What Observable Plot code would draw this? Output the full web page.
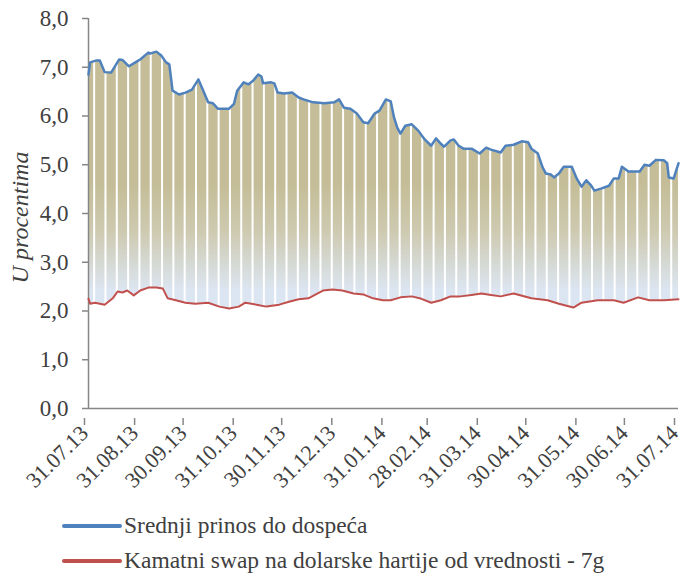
<!DOCTYPE html>
<html><head><meta charset="utf-8">
<script src="https://cdn.jsdelivr.net/npm/d3@7"></script>
<script src="https://cdn.jsdelivr.net/npm/@observablehq/plot@0.6"></script>
<style>
body{margin:0;background:#fff;font-family:"Liberation Serif","DejaVu Serif",serif;}
svg, svg text{font-family:"Liberation Serif","DejaVu Serif",serif !important;}
#legend{padding-top:8px;}
.row{display:flex;align-items:center;height:35px;color:#404040;font-size:23.5px;white-space:nowrap;}
.sw{width:60px;height:4px;margin-left:62px;margin-right:2px;border-radius:2px;}
</style></head><body>
<div id="chart"></div>
<div id="legend"></div>
<script>
const tickLabels = ["31.07.13","31.08.13","30.09.13","31.10.13","30.11.13","31.12.13","31.01.14","28.02.14","31.03.14","30.04.14","31.05.14","30.06.14","31.07.14"];
const yTicks = [0,1,2,3,4,5,6,7,8];
const seriesNames = ["Srednji prinos do dospeća","Kamatni swap na dolarske hartije od vrednosti - 7g"];
const seriesColors = ["#4F81BD","#C0504D"];

const blueDates = ["31.07.13","01.08.13","05.08.13","07.08.13","10.08.13","14.08.13","19.08.13","21.08.13","25.08.13","29.08.13",
"01.09.13","06.09.13","07.09.13","11.09.13","14.09.13","17.09.13","19.09.13","21.09.13","25.09.13","29.09.13",
"03.10.13","07.10.13","10.10.13","13.10.13","16.10.13","19.10.13","26.10.13","29.10.13","31.10.13",
"04.11.13","07.11.13","10.11.13","13.11.13","15.11.13","16.11.13","21.11.13","23.11.13","25.11.13","29.11.13",
"04.12.13","08.12.13","11.12.13","17.12.13","24.12.13","30.12.13",
"02.01.14","05.01.14","09.01.14","13.01.14","17.01.14","20.01.14","24.01.14","27.01.14","31.01.14",
"03.02.14","05.02.14","07.02.14","09.02.14","12.02.14","16.02.14","20.02.14","24.02.14","28.02.14",
"03.03.14","06.03.14","08.03.14","12.03.14","14.03.14","17.03.14","20.03.14","25.03.14","30.03.14",
"03.04.14","06.04.14","12.04.14","15.04.14","20.04.14","25.04.14","29.04.14",
"01.05.14","05.05.14","08.05.14","10.05.14","13.05.14","15.05.14","18.05.14","21.05.14","26.05.14","29.05.14",
"01.06.14","04.06.14","07.06.14","09.06.14","13.06.14","18.06.14","21.06.14","24.06.14","26.06.14","30.06.14",
"07.07.14","10.07.14","13.07.14","17.07.14","22.07.14","24.07.14","25.07.14","28.07.14","31.07.14"];
const blueValues = [6.85,7.10,7.14,7.14,6.90,6.89,7.16,7.15,7.02,7.10,
7.16,7.30,7.28,7.32,7.24,7.10,7.06,6.52,6.44,6.48,
6.54,6.75,6.52,6.28,6.26,6.15,6.15,6.25,6.52,
6.69,6.65,6.73,6.85,6.81,6.67,6.69,6.67,6.48,6.46,
6.48,6.38,6.34,6.28,6.26,6.28,
6.34,6.17,6.15,6.05,5.87,5.85,6.05,6.11,6.34,
6.30,5.97,5.76,5.64,5.80,5.83,5.70,5.52,5.39,
5.54,5.43,5.37,5.50,5.52,5.39,5.33,5.33,5.23,
5.35,5.31,5.25,5.39,5.41,5.48,5.46,
5.33,5.23,4.94,4.82,4.80,4.74,4.82,4.96,4.96,4.72,
4.55,4.68,4.57,4.47,4.51,4.57,4.72,4.72,4.96,4.86,
4.86,5.00,4.98,5.10,5.09,5.03,4.74,4.72,5.03];

const redDates = ["31.07.13","01.08.13","04.08.13","10.08.13","15.08.13","18.08.13","21.08.13","24.08.13","28.08.13",
"01.09.13","06.09.13","11.09.13","15.09.13","18.09.13","23.09.13","29.09.13",
"05.10.13","13.10.13","20.10.13","26.10.13","01.11.13","05.11.13","12.11.13","18.11.13","26.11.13",
"02.12.13","08.12.13","14.12.13","23.12.13","29.12.13",
"04.01.14","11.01.14","17.01.14","23.01.14","29.01.14","03.02.14","09.02.14","16.02.14","22.02.14","28.02.14",
"06.03.14","12.03.14","18.03.14","25.03.14","31.03.14","06.04.14","12.04.14","20.04.14","01.05.14",
"11.05.14","18.05.14","27.05.14","01.06.14","11.06.14","21.06.14","27.06.14","06.07.14","13.07.14","22.07.14","31.07.14"];
const redValues = [2.25,2.15,2.17,2.13,2.26,2.40,2.38,2.42,2.32,
2.42,2.48,2.48,2.46,2.26,2.22,2.17,
2.15,2.17,2.09,2.05,2.09,2.17,2.13,2.09,2.13,
2.19,2.24,2.26,2.42,2.44,
2.42,2.36,2.34,2.26,2.22,2.22,2.28,2.30,2.25,2.17,
2.22,2.30,2.30,2.33,2.36,2.33,2.30,2.36,2.26,
2.22,2.15,2.07,2.17,2.22,2.22,2.17,2.28,2.22,2.22,2.24];

const parse = d3.utcParse("%d.%m.%y");
const fmt = d3.utcFormat("%d.%m.%y");
const blue = blueDates.map((d, i) => ({date: parse(d), value: blueValues[i]}));
const red = redDates.map((d, i) => ({date: parse(d), value: redValues[i]}));
const tickDates = tickLabels.map(parse);
const xStart = tickDates[0], xEnd = tickDates[tickDates.length - 1];
// weekend gaps (no trading) – centre of each Sat/Sun pair
const weekends = d3.utcDay.range(xStart, xEnd).filter(d => d.getUTCDay() === 6).map(d => d3.utcHour.offset(d, 12));

const gradientDefs = (index, scales) => {
  const ns = "http://www.w3.org/2000/svg";
  const defs = document.createElementNS(ns, "defs");
  const yTop = scales.y(4.6), yBot = scales.y(2.4);
  defs.innerHTML = `<linearGradient id="bandGrad" gradientUnits="userSpaceOnUse" x1="0" x2="0" y1="${yTop}" y2="${yBot}">
    <stop offset="0" stop-color="#C4BD97"/>
    <stop offset="0.45" stop-color="#CECAB1"/>
    <stop offset="1" stop-color="#DCE6F2"/></linearGradient>`;
  return defs;
};

const grey = "#868686", textCol = "#404040";
const serif = "'Liberation Serif', 'DejaVu Serif', serif";
const plot = Plot.plot({
  width: 682, height: 500,
  marginLeft: 88, marginRight: 4, marginTop: 18, marginBottom: 92,
  style: {fontFamily: serif, fontSize: "22px", background: "white", overflow: "visible"},
  x: {type: "utc", domain: [xStart, xEnd]},
  y: {domain: [0, 8]},
  marks: [
    gradientDefs,
    Plot.areaY(blue, {x: "date", y: "value", fill: "url(#bandGrad)"}),
    Plot.areaY(red, {x: "date", y: "value", fill: "white"}),
    Plot.ruleX(weekends, {stroke: "white", strokeWidth: 2}),
    Plot.ruleY([0], {stroke: grey, strokeWidth: 1.5}),
    Plot.ruleX([xStart], {stroke: grey, strokeWidth: 1.5}),
    Plot.lineY(red, {x: "date", y: "value", stroke: seriesColors[1], strokeWidth: 2}),
    Plot.lineY(blue, {x: "date", y: "value", stroke: seriesColors[0], strokeWidth: 2.5}),
    Plot.axisY({ticks: yTicks, tickFormat: d => d.toFixed(1).replace(".", ","), tickSize: 6, tickPadding: 14,
      stroke: grey, strokeWidth: 1.5, fill: textCol, fontSize: 23, fontFamily: serif, label: null}),
    Plot.axisX({ticks: tickDates, tickFormat: fmt, tickSize: 7, tickPadding: 4, tickRotate: -45, dy: 10, dx: -4,
      stroke: grey, strokeWidth: 1.5, fill: textCol, fontSize: 22, fontFamily: serif, label: null}),
    Plot.text(["U procentima"], {frameAnchor: "left", textAnchor: "middle", rotate: -90, dx: -68, dy: 4,
      fontStyle: "italic", fontSize: 24, fontFamily: serif, fill: textCol})
  ]
});
document.getElementById("chart").appendChild(plot);

const legend = document.getElementById("legend");
seriesNames.forEach((name, i) => {
  const row = document.createElement("div");
  row.className = "row";
  const sw = document.createElement("span");
  sw.className = "sw";
  sw.style.background = seriesColors[i];
  const t = document.createElement("span");
  t.textContent = name;
  row.appendChild(sw); row.appendChild(t);
  legend.appendChild(row);
});
</script>
</body></html>
